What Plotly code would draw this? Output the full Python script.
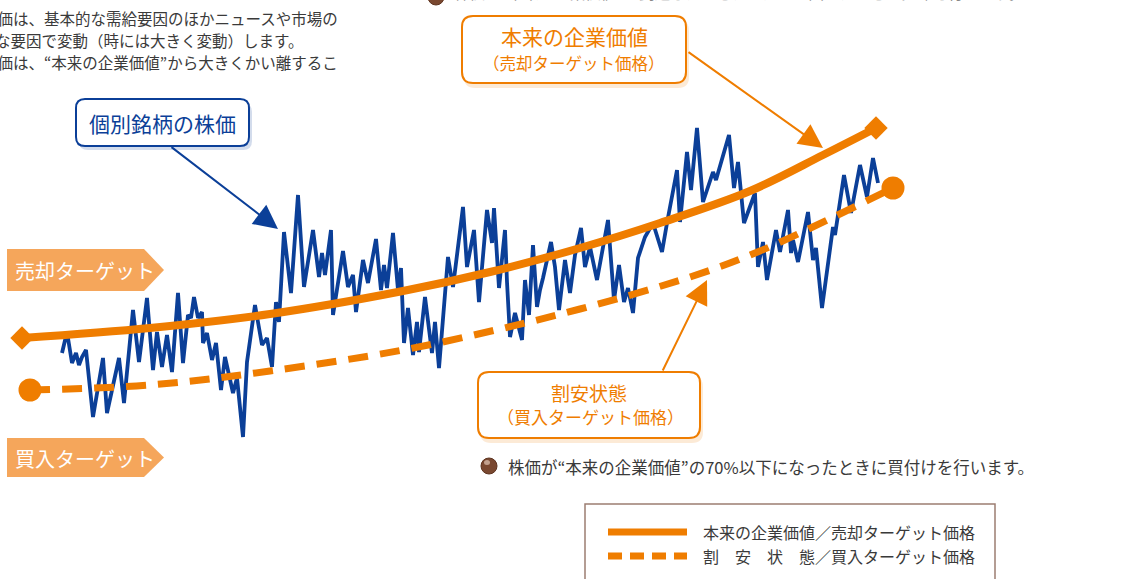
import plotly.graph_objects as go

W, H = 1131, 579
FONT = "Noto Sans CJK JP"
BLUE = "#0b3f98"
ORANGE = "#ef7d00"
TAG = "#f5a65b"
GREY = "#3a3a3a"

# ---- data (time position, price level) ----
stock_t = [62, 67, 72, 76, 79, 82, 86, 93, 103, 107, 119, 124, 133, 139, 147, 153, 157, 162, 167, 172,
           178, 183, 188, 191, 194, 198, 202, 203, 207, 212, 216, 221, 225, 233, 237, 243, 247, 255, 262, 267,
           272, 276, 279, 284, 291, 298, 304, 313, 319, 322, 325, 331, 333, 343, 348, 353, 356, 363, 368, 376,
           381, 384, 387, 393, 398, 401, 404, 408, 413, 417, 419, 425, 432, 435, 439, 448, 453, 463, 467, 474,
           479, 487, 492, 494, 499, 505, 507, 510, 515, 522, 525, 529, 533, 537, 540, 543, 551, 555, 559, 565,
           570, 575, 581, 585, 590, 597, 608, 614, 619, 624, 628, 633, 638, 645, 653, 662, 667, 677, 680, 687,
           691, 697, 703, 713, 716, 729, 734, 738, 744, 755, 758, 763, 767, 776, 780, 788, 791, 793, 798, 808,
           813, 816, 822, 833, 835, 844, 851, 860, 867, 873, 878]
stock_p = [226, 247, 216, 226, 214, 222, 229, 162, 221, 166, 221, 176, 269, 217, 281, 209, 247, 212, 244, 207,
           286, 216, 264, 261, 282, 261, 267, 236, 246, 219, 236, 189, 222, 186, 201, 142, 217, 274, 234, 241,
           212, 277, 257, 347, 286, 384, 292, 349, 302, 326, 304, 349, 264, 328, 292, 304, 267, 319, 296, 340,
           289, 314, 291, 346, 289, 311, 236, 271, 224, 257, 227, 282, 226, 257, 211, 322, 292, 372, 312, 349,
           277, 369, 336, 371, 291, 349, 297, 242, 266, 239, 299, 264, 334, 272, 289, 301, 337, 312, 269, 319,
           286, 324, 351, 312, 332, 299, 359, 279, 314, 277, 291, 266, 321, 342, 356, 327, 356, 409, 357, 427,
           389, 451, 377, 407, 399, 444, 391, 417, 356, 386, 312, 337, 299, 349, 327, 369, 326, 339, 317, 367,
           319, 331, 271, 352, 344, 404, 366, 414, 382, 421, 396]

value_t = [22, 150, 270, 403, 490, 580, 660, 750, 823, 876]
value_p = [241, 251, 265, 288, 307, 331, 356, 388, 424, 451]

cheap_t = [30, 150, 270, 403, 500, 580, 690, 760, 893]
cheap_p = [189, 194, 208, 229, 250, 270, 302, 328, 391]

# ---- texts ----
note_lines = ["株価は、基本的な需給要因のほかニュースや市場の",
              "様々な要因で変動（時には大きく変動）します。",
              "株価は、“本来の企業価値”から大きくかい離するこ"]
top_note = "株価が“本来の企業価値”に到達したとき、または上回ったときに売却を行います。"
bottom_note = "株価が“本来の企業価値”の70%以下になったときに買付けを行います。"
legend_lines = ["本来の企業価値／売却ターゲット価格", "割　安　状　態／買入ターゲット価格"]


def Y(py):
    return H - py


def rrect(x0, y0, x1, y1, r):
    return (f"M {x0+r},{Y(y0)} L {x1-r},{Y(y0)} Q {x1},{Y(y0)} {x1},{Y(y0+r)} "
            f"L {x1},{Y(y1-r)} Q {x1},{Y(y1)} {x1-r},{Y(y1)} L {x0+r},{Y(y1)} "
            f"Q {x0},{Y(y1)} {x0},{Y(y1-r)} L {x0},{Y(y0+r)} Q {x0},{Y(y0)} {x0+r},{Y(y0)} Z")


def tag(x0, y0, x1, y1, tip):
    ym = (y0 + y1) / 2
    return f"M {x0},{Y(y0)} L {x1},{Y(y0)} L {tip},{Y(ym)} L {x1},{Y(y1)} L {x0},{Y(y1)} Z"


fig = go.Figure()

fig.add_trace(go.Scatter(x=stock_t, y=stock_p, mode="lines",
                         line=dict(color=BLUE, width=3.8), hoverinfo="skip"))
fig.add_trace(go.Scatter(x=cheap_t, y=cheap_p, mode="lines",
                         line=dict(color=ORANGE, width=7, dash="20px,12px", shape="spline", smoothing=1.0),
                         hoverinfo="skip"))
fig.add_trace(go.Scatter(x=value_t, y=value_p, mode="lines",
                         line=dict(color=ORANGE, width=8, shape="spline", smoothing=1.0), hoverinfo="skip"))
fig.add_trace(go.Scatter(x=[value_t[0], value_t[-1]], y=[value_p[0], value_p[-1]], mode="markers",
                         marker=dict(symbol="diamond", size=18, color=ORANGE), hoverinfo="skip"))
fig.add_trace(go.Scatter(x=[cheap_t[0], cheap_t[-1]], y=[cheap_p[0], cheap_p[-1]], mode="markers",
                         marker=dict(symbol="circle", size=23, color=ORANGE), hoverinfo="skip"))

shapes = []
# callout boxes with shadows
shapes.append(dict(type="path", path=rrect(79, 103, 252, 150, 9), fillcolor="rgba(11,63,152,0.18)", line=dict(width=0), layer="below"))
shapes.append(dict(type="path", path=rrect(76, 99, 249, 146, 9), fillcolor="white", line=dict(color=BLUE, width=2)))
shapes.append(dict(type="path", path=rrect(464, 20, 689, 88, 11), fillcolor="rgba(239,125,0,0.16)", line=dict(width=0), layer="below"))
shapes.append(dict(type="path", path=rrect(462, 16, 686, 83, 11), fillcolor="white", line=dict(color=ORANGE, width=2)))
shapes.append(dict(type="path", path=rrect(480, 376, 703, 443, 11), fillcolor="rgba(239,125,0,0.16)", line=dict(width=0), layer="below"))
shapes.append(dict(type="path", path=rrect(478, 372, 700, 438, 11), fillcolor="white", line=dict(color=ORANGE, width=2)))
# target tags
shapes.append(dict(type="path", path=tag(7, 249, 144, 291, 164), fillcolor=TAG, line=dict(width=0)))
shapes.append(dict(type="path", path=tag(7, 438, 144, 477, 164), fillcolor=TAG, line=dict(width=0)))
# bullets
for cx, cy in [(489, 466), (436, -3)]:
    shapes.append(dict(type="circle", x0=cx - 8, x1=cx + 8, y0=Y(cy + 8), y1=Y(cy - 8),
                       fillcolor="#7a4830", line=dict(color="#5e3420", width=1)))
    shapes.append(dict(type="circle", x0=cx - 5, x1=cx + 1, y0=Y(cy - 1), y1=Y(cy - 6),
                       fillcolor="rgba(255,235,220,0.55)", line=dict(width=0)))
# legend box
shapes.append(dict(type="rect", x0=585, x1=995, y0=Y(600), y1=Y(504), line=dict(color="#9c7d72", width=1.5)))
shapes.append(dict(type="line", x0=608, x1=687, y0=Y(532), y1=Y(532), line=dict(color=ORANGE, width=7)))
shapes.append(dict(type="line", x0=608, x1=687, y0=Y(556), y1=Y(556), line=dict(color=ORANGE, width=7, dash="14px,8px")))

ann = []


def txt(x, y, s, size, color, anchor="left"):
    ann.append(dict(x=x / W, y=(H - y) / H, text=s, showarrow=False, xanchor=anchor, yanchor="middle",
                    font=dict(family=FONT, size=size, color=color), xref="paper", yref="paper"))


def arrow(x0, y0, x1, y1, color, width, size):
    ann.append(dict(x=x1, y=Y(y1), ax=x0, ay=Y(y0), xref="x", yref="y", axref="x", ayref="y",
                    text="", showarrow=True, arrowhead=2, arrowsize=size, arrowwidth=width,
                    arrowcolor=color, standoff=0))


txt(-20, 18, note_lines[0], 15.5, GREY)
txt(-38, 40, note_lines[1], 15.5, GREY)
txt(-20, 62, note_lines[2], 15.5, GREY)
txt(452, -8.5, top_note, 15.5, "#888888")

txt(162.5, 123, "個別銘柄の株価", 21, BLUE, anchor="center")
txt(574, 36, "本来の企業価値", 21, ORANGE, anchor="center")
txt(574, 63, "（売却ターゲット価格）", 16.5, ORANGE, anchor="center")
txt(589, 392, "割安状態", 19, ORANGE, anchor="center")
txt(590, 416, "（買入ターゲット価格）", 17, ORANGE, anchor="center")

txt(13, 270, "売却ターゲット", 20, "white")
txt(13, 458, "買入ターゲット", 20, "white")

txt(506, 467, bottom_note, 16.5, GREY)
txt(701, 532, legend_lines[0], 16, GREY)
txt(701, 556, legend_lines[1], 16, GREY)

arrow(170, 146, 278, 229, BLUE, 2, 2.4)
arrow(687, 51, 823, 148, ORANGE, 2, 2.4)
arrow(662, 372, 707, 280, ORANGE, 2, 2.4)

fig.update_layout(
    width=W, height=H, margin=dict(l=0, r=0, t=0, b=0),
    paper_bgcolor="white", plot_bgcolor="white", showlegend=False,
    xaxis=dict(range=[0, W], visible=False, fixedrange=True),
    yaxis=dict(range=[0, H], visible=False, fixedrange=True),
    shapes=shapes, annotations=ann,
)

fig.write_html("out.html", config={"displayModeBar": False, "staticPlot": True},
               post_script="document.body.style.margin='0';document.body.style.overflow='hidden';")
